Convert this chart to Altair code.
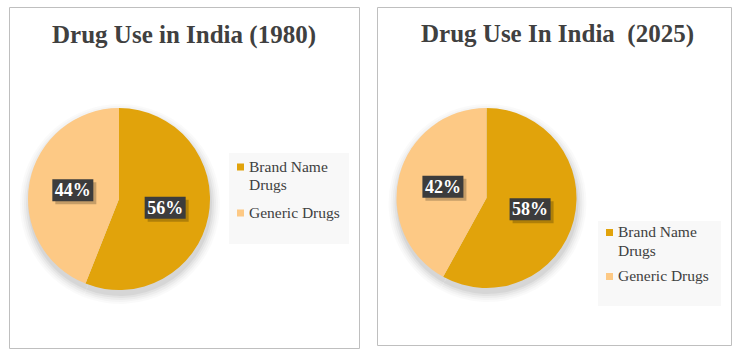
import altair as alt
import pandas as pd

categories = ["Brand Name Drugs", "Generic Drugs"]
legend_labels = ["Brand Name\nDrugs", "Generic Drugs"]
slice_colors = ["#E1A30B", "#FDC985"]
values_1980 = [56, 44]
values_2025 = [58, 42]
titles = ["Drug Use in India (1980)", "Drug Use In India\u00a0 (2025)"]

FONT = "Liberation Serif"
TEXT_COLOR = "#404040"


def panel(title, values, w, h, cx, cy, r, lab_r, tx, ty, lg_box, lg_sq_x, lg_y0, lg_step, lg_lh):
    df = pd.DataFrame({
        "category": categories,
        "value": values,
        "color": slice_colors,
        "order": [0, 1],
        "legend": legend_labels,
    })
    theta = alt.Theta("value:Q", stack=True)
    order = alt.Order("order:Q")

    layers = []
    # soft shadow under the pie
    for extra, op in [(9, 0.02), (7, 0.025), (5, 0.03), (3, 0.04), (1, 0.05)]:
        layers.append(
            alt.Chart(df).mark_arc(radius=r + extra, color="black", opacity=op)
            .encode(theta=theta, order=order, x=alt.value(cx + 1), y=alt.value(cy + 5))
        )
    layers.append(
        alt.Chart(df).mark_arc(radius=r)
        .encode(theta=theta, order=order,
                color=alt.Color("color:N", scale=None),
                x=alt.value(cx), y=alt.value(cy))
    )

    base = (
        alt.Chart(df)
        .transform_joinaggregate(total="sum(value)")
        .transform_window(cum="sum(value)", sort=[alt.SortField("order")], frame=[None, 0])
        .transform_calculate(
            mid="(datum.cum - datum.value/2) / datum.total * 2 * PI",
            pct="datum.value + '%'",
        )
        .transform_calculate(
            lx=f"{cx} + {lab_r} * sin(datum.mid)",
            ly=f"{cy} - {lab_r} * cos(datum.mid)",
        )
        .transform_calculate(
            bx1="datum.lx - 20.5", bx2="datum.lx + 20.5",
            by1="datum.ly - 11", by2="datum.ly + 11",
            sx1="datum.lx - 17.5", sx2="datum.lx + 23.5",
            sy1="datum.ly - 8", sy2="datum.ly + 14",
        )
    )
    layers.append(
        base.mark_rect(color="#000000", opacity=0.22)
        .encode(x=alt.X("sx1:Q", scale=None), x2="sx2:Q",
                y=alt.Y("sy1:Q", scale=None), y2="sy2:Q")
    )
    layers.append(
        base.mark_rect(color="#3c3c3c")
        .encode(x=alt.X("bx1:Q", scale=None), x2="bx2:Q",
                y=alt.Y("by1:Q", scale=None), y2="by2:Q")
    )
    layers.append(
        base.mark_text(font=FONT, fontSize=18, fontWeight="bold", color="white",
                       align="center", baseline="middle", dy=1)
        .encode(x=alt.X("lx:Q", scale=None), y=alt.Y("ly:Q", scale=None), text="pct:N")
    )

    # title
    layers.append(
        alt.Chart(pd.DataFrame({"t": [title]}))
        .mark_text(font=FONT, fontSize=25, fontWeight="bold", color=TEXT_COLOR,
                   align="center", baseline="alphabetic")
        .encode(x=alt.value(tx), y=alt.value(ty), text="t:N")
    )

    # legend
    x0, y0, x1, y1 = lg_box
    layers.append(
        alt.Chart(pd.DataFrame({"a": [0]})).mark_rect(color="#f8f8f8")
        .encode(x=alt.value(x0), x2=alt.value(x1), y=alt.value(y0), y2=alt.value(y1))
    )
    leg = alt.Chart(df).transform_calculate(
        sy1=f"{lg_y0} + datum.order * {lg_step} - 3.5",
        sy2=f"{lg_y0} + datum.order * {lg_step} + 3.5",
        ty=f"{lg_y0} + datum.order * {lg_step} + 4.5",
        sx1=f"{lg_sq_x - 3.5}", sx2=f"{lg_sq_x + 3.5}",
    )
    layers.append(
        leg.mark_rect()
        .encode(x=alt.X("sx1:Q", scale=None), x2="sx2:Q",
                y=alt.Y("sy1:Q", scale=None), y2="sy2:Q",
                color=alt.Color("color:N", scale=None))
    )
    layers.append(
        leg.mark_text(font=FONT, fontSize=15.5, color=TEXT_COLOR, align="left",
                      baseline="alphabetic", lineBreak="\n", lineHeight=lg_lh)
        .encode(x=alt.value(lg_sq_x + 8.5), y=alt.Y("ty:Q", scale=None), text="legend:N")
    )

    return alt.layer(*layers).properties(width=w, height=h)


left = panel(titles[0], values_1980, 350, 341, 110, 192, 91, 47, 175, 36,
             (220, 146, 340, 237), 231.5, 160, 46, 18)
right = panel(titles[1], values_2025, 354, 338, 109.5, 191, 90, 45, 180.5, 35,
              (221, 214, 344, 299), 232.5, 225.5, 44, 19)

chart = (
    alt.hconcat(left, right, spacing=16)
    .properties(padding={"left": 8, "top": 6, "right": 0, "bottom": 0}, background="white")
    .configure_view(stroke="#bfbfbf", strokeWidth=1)
)

chart.save("out.html", embed_options={"renderer": "svg", "actions": False})
